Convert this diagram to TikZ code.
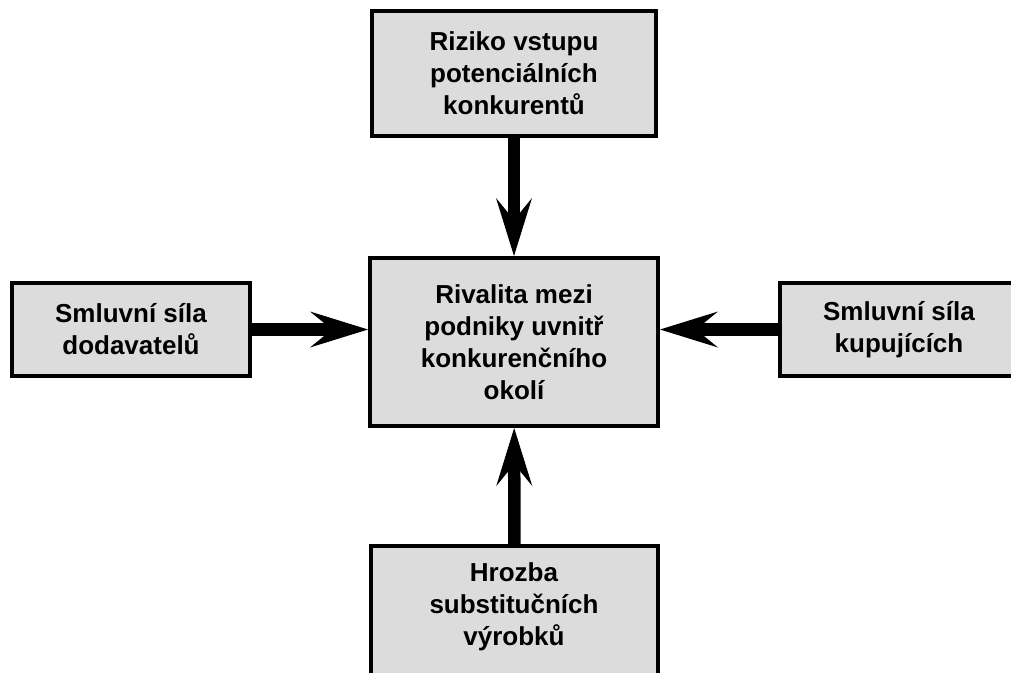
\documentclass[tikz,border=0pt]{standalone}
\usepackage{fontspec}
\setmainfont{Liberation Sans}
\usetikzlibrary{arrows.meta}
\definecolor{boxfill}{HTML}{DCDCDC}
\begin{document}
\begin{tikzpicture}[x=1pt,y=-1pt,
  box/.style={draw, line width=4pt, fill=boxfill, align=center, inner sep=0pt,
    font=\bfseries\fontsize{26}{32}\selectfont},
  label/.style={align=center, inner sep=0pt, font=\bfseries\fontsize{26}{32}\selectfont},
  force/.style={line width=12.5pt, -{Stealth[length=58pt,width=36pt,inset=22pt,line width=0pt]}}]
\useasboundingbox (0,0) rectangle (1011,672);
\clip (0,0) rectangle (1011,672);
\node[box, minimum width=284pt, minimum height=125pt] (top) at (514,73.5) {Riziko vstupu\\potenciálních\\konkurentů};
\node[box, minimum width=288pt, minimum height=168pt] (center) at (514,342) {Rivalita mezi\\podniky uvnitř\\konkurenčního\\okolí};
\node[box, minimum width=238pt, minimum height=93pt] (left) at (131,329.5) {Smluvní síla\\dodavatelů};
\node[box, minimum width=238pt, minimum height=93pt] (right) at (899,329.5) {Smluvní síla\\kupujících};
\node[box, minimum width=287pt, minimum height=152pt] (bottom) at (514.5,622) {};
\node[label] (bottomtext) at (514,607) {Hrozba\\substitučních\\výrobků};
\draw[force] (top) -- (center);
\draw[force] (bottom) -- (center);
\draw[force] (left.east) -- (left.east -| center.west);
\draw[force] (right.west) -- (right.west -| center.east);
\end{tikzpicture}
\end{document}
